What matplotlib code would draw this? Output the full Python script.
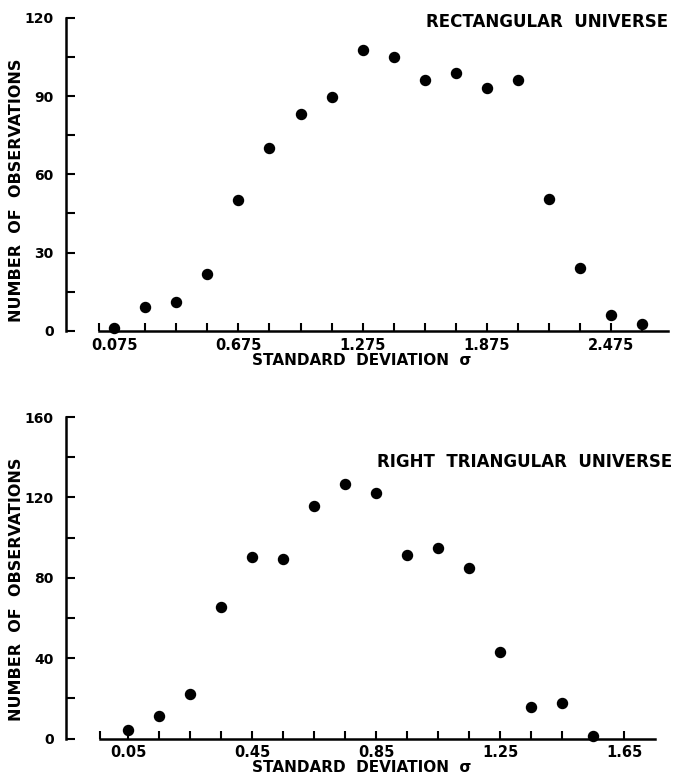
import matplotlib
matplotlib.use('Agg')
import matplotlib.pyplot as plt
from matplotlib.ticker import FixedLocator

# Rectangular universe data
rect_sigma = [0.075, 0.225, 0.375, 0.525, 0.675, 0.825, 0.975, 1.125, 1.275,
              1.425, 1.575, 1.725, 1.875, 2.025, 2.175, 2.325, 2.475, 2.625]
rect_count = [1, 9, 11, 22, 50, 70, 83, 89.5, 107.5,
              105, 96, 99, 93, 96, 50.5, 24, 6, 2.5]
rect_xticks = [0.075, 0.225, 0.375, 0.525, 0.675, 0.825, 0.975, 1.125, 1.275,
               1.425, 1.575, 1.725, 1.875, 2.025, 2.175, 2.325, 2.475, 2.625]
rect_xlabels = ['0.075', '', '', '', '0.675', '', '', '', '1.275',
                '', '', '', '1.875', '', '', '', '2.475', '']
rect_yticks = [0, 30, 60, 90, 120]

# Right triangular universe data
tri_sigma = [0.05, 0.15, 0.25, 0.35, 0.45, 0.55, 0.65, 0.75, 0.85,
             0.95, 1.05, 1.15, 1.25, 1.35, 1.45, 1.55]
tri_count = [4, 11, 22, 65.5, 90.5, 89.5, 115.5, 126.5, 122,
             91.5, 95, 85, 43, 15.5, 17.5, 1.5]
tri_xticks = [0.05, 0.15, 0.25, 0.35, 0.45, 0.55, 0.65, 0.75, 0.85,
              0.95, 1.05, 1.15, 1.25, 1.35, 1.45, 1.55, 1.65]
tri_xlabels = ['0.05', '', '', '', '0.45', '', '', '', '0.85',
               '', '', '', '1.25', '', '', '', '1.65']
tri_yticks = [0, 40, 80, 120, 160]

plt.rcParams['font.family'] = ['DejaVu Sans']
plt.rcParams['font.weight'] = 'bold'
plt.rcParams['axes.labelweight'] = 'bold'

fig = plt.figure(figsize=(6.73, 7.76), dpi=100)


def style_axes(ax, xbounds, ymax, yticks, yminor, xticks, xlabels, xends,
               xlab_pos, ylab_pos):
    for s in ['top', 'right']:
        ax.spines[s].set_visible(False)
    ax.spines['left'].set_linewidth(1.8)
    ax.spines['bottom'].set_linewidth(1.8)
    ax.spines['left'].set_bounds(0, ymax)
    ax.spines['bottom'].set_bounds(*xbounds)
    ax.set_ylim(0, ymax)
    ax.yaxis.set_major_locator(FixedLocator(yticks))
    ax.yaxis.set_minor_locator(FixedLocator(yminor))
    ax.set_yticklabels([str(t) for t in yticks])
    ax.xaxis.set_major_locator(FixedLocator(xticks))
    ax.xaxis.set_minor_locator(FixedLocator(xends))
    ax.set_xticklabels(xlabels)
    ax.tick_params(axis='y', which='both', direction='in', length=6.5, width=1.5,
                   labelsize=10, pad=9)
    ax.tick_params(axis='x', which='both', direction='in', length=5.5, width=1.5,
                   labelsize=10.5, pad=5)
    ax.set_ylabel('NUMBER  OF  OBSERVATIONS', fontsize=11.5)
    ax.set_xlabel('STANDARD  DEVIATION  σ', fontsize=11)
    ax.yaxis.set_label_coords(*ylab_pos)
    ax.xaxis.set_label_coords(*xlab_pos)
    ax.xaxis.label.set_va('center')
    ax.yaxis.label.set_va('center')


# top panel
ax1 = fig.add_axes([0.0981, 0.5735, 0.8945, 0.4037])
ax1.scatter(rect_sigma, rect_count, s=52, color='black', zorder=3, clip_on=False)
ax1.set_xlim(-0.157, 2.749)
style_axes(ax1, (0, 2.75), 120, rect_yticks, [15, 45, 75, 105],
           rect_xticks, rect_xlabels, [0, 2.75], (0.491, -0.095), (-0.082, 0.45))
ax1.text(1.0, 0.986, 'RECTANGULAR  UNIVERSE', transform=ax1.transAxes,
         ha='right', va='center', fontsize=12)

# bottom panel
ax2 = fig.add_axes([0.0981, 0.0483, 0.8737, 0.4143])
ax2.scatter(tri_sigma, tri_count, s=52, color='black', zorder=3, clip_on=False)
ax2.set_xlim(-0.15, 1.747)
style_axes(ax2, (-0.04, 1.75), 160, tri_yticks, [20, 60, 100, 140],
           tri_xticks, tri_xlabels, [-0.04, 1.75], (0.503, -0.09), (-0.085, 0.465))
ax2.text(1.031, 0.86, 'RIGHT  TRIANGULAR  UNIVERSE', transform=ax2.transAxes,
         ha='right', va='center', fontsize=12)

fig.savefig('out.png', dpi=100)
